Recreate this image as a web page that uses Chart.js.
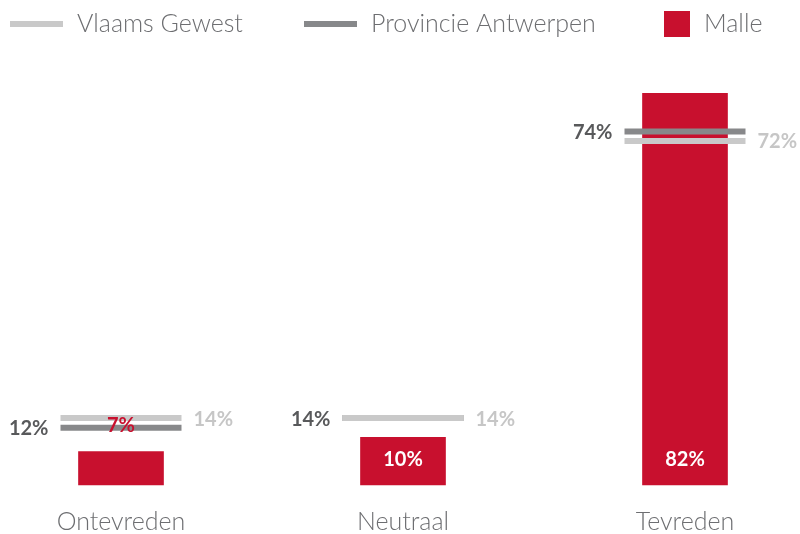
<!DOCTYPE html>
<html lang="nl">
<head>
<meta charset="utf-8">
<title>Tevredenheid Malle</title>
<script src="https://cdn.jsdelivr.net/npm/chart.js@4"></script>
<style>
  html, body { margin: 0; padding: 0; background: #fff; }
  #wrap { width: 800px; height: 534px; position: relative; }
</style>
</head>
<body>
<div id="wrap"><canvas id="chart"></canvas></div>
<script>
// Gegevens
const categories = ['Ontevreden', 'Neutraal', 'Tevreden'];
const vlaamsGewest = [14, 14, 72];
const provincieAntwerpen = [12, 14, 74];
const malle = [7, 10, 82];

const COLORS = {
  red: '#c8102e',
  lightGray: '#c9c9c9',
  darkGray: '#87888a',
  darkLabel: '#58595b',
  lightLabel: '#c6c6c6',
  text: '#6d6e71'
};
const FONT = "'Lato', 'Open Sans', sans-serif";

// Legenda bovenaan, met een lijn of een vierkantje per reeks
const topLegend = {
  id: 'topLegend',
  afterDraw(chart) {
    const ctx = chart.ctx;
    const items = [
      { x: 10, kind: 'line', color: COLORS.lightGray, label: chart.data.datasets[0].label },
      { x: 304, kind: 'line', color: COLORS.darkGray, label: chart.data.datasets[1].label },
      { x: 664, kind: 'box', color: COLORS.red, label: chart.data.datasets[2].label }
    ];
    const cy = 24;
    ctx.save();
    ctx.font = `300 25px ${FONT}`;
    ctx.textBaseline = 'middle';
    ctx.textAlign = 'left';
    items.forEach(it => {
      ctx.fillStyle = it.color;
      let w;
      if (it.kind === 'line') {
        w = 53;
        ctx.fillRect(it.x, cy - 3, w, 6);
      } else {
        w = 26;
        ctx.fillRect(it.x, cy - 13, w, 26);
      }
      ctx.fillStyle = COLORS.text;
      ctx.fillText(it.label, it.x + w + 14, cy);
    });
    ctx.restore();
  }
};

// Percentages naast de lijnen en bij de balken
const valueLabels = {
  id: 'valueLabels',
  afterDatasetsDraw(chart) {
    const ctx = chart.ctx;
    const xs = chart.scales.x;
    const ys = chart.scales.y;
    const half = 60.5;
    ctx.save();
    ctx.font = `700 20px ${FONT}`;
    ctx.textBaseline = 'middle';
    categories.forEach((c, i) => {
      const x = xs.getPixelForValue(i);

      ctx.textAlign = 'right';
      ctx.fillStyle = COLORS.darkLabel;
      ctx.fillText(provincieAntwerpen[i] + '%', x - half - 12, ys.getPixelForValue(provincieAntwerpen[i]) + 1);

      ctx.textAlign = 'left';
      ctx.fillStyle = COLORS.lightLabel;
      ctx.fillText(vlaamsGewest[i] + '%', x + half + 12, ys.getPixelForValue(vlaamsGewest[i]) + 1);

      ctx.textAlign = 'center';
      const top = ys.getPixelForValue(malle[i]);
      const base = ys.getPixelForValue(0);
      if (base - top < 40) {
        ctx.fillStyle = COLORS.red;
        ctx.fillText(malle[i] + '%', x, top - 26);
      } else {
        ctx.fillStyle = '#ffffff';
        ctx.fillText(malle[i] + '%', x, base - 25);
      }
    });
    ctx.restore();
  }
};

const markerLine = (label, values, color) => ({
  type: 'line',
  label: label,
  data: values,
  showLine: false,
  pointStyle: 'line',
  pointRadius: 60.5,
  pointHoverRadius: 60.5,
  pointBorderWidth: 6,
  pointHoverBorderWidth: 6,
  pointBorderColor: color,
  pointBackgroundColor: color,
  borderColor: color,
  clip: false
});

new Chart(document.getElementById('chart'), {
  type: 'bar',
  data: {
    labels: categories,
    datasets: [
      markerLine('Vlaams Gewest', vlaamsGewest, COLORS.lightGray),
      markerLine('Provincie Antwerpen', provincieAntwerpen, COLORS.darkGray),
      {
        type: 'bar',
        label: 'Malle',
        data: malle,
        backgroundColor: COLORS.red,
        barThickness: 85,
        borderWidth: 0,
        clip: false
      }
    ]
  },
  options: {
    responsive: true,
    maintainAspectRatio: false,
    animation: false,
    // de brede lijnmarkers mogen de marges niet opblazen
    layout: { autoPadding: false, padding: { top: 55, left: 121, right: 115, bottom: 0 } },
    plugins: {
      legend: { display: false },
      tooltip: { enabled: false }
    },
    scales: {
      x: {
        offset: false,
        grid: { display: false },
        border: { display: false },
        ticks: {
          color: COLORS.text,
          padding: 14,
          maxRotation: 0,
          font: { family: FONT, size: 25, weight: '300' }
        },
        // vaste hoogte voor de categorie-as zodat de basislijn op 485px ligt
        afterFit(scale) { scale.height = 49; }
      },
      y: {
        display: false,
        min: 0,
        max: 90
      }
    }
  },
  plugins: [topLegend, valueLabels]
});
</script>
</body>
</html>
